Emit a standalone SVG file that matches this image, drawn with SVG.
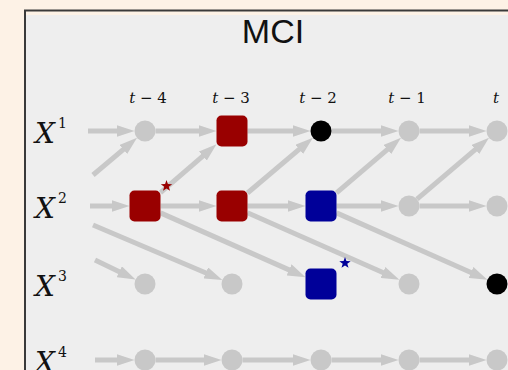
<svg xmlns="http://www.w3.org/2000/svg" width="508" height="370" viewBox="0 0 508 370">
<style>
.e{stroke:#c8c8c8;stroke-width:5;fill:none;marker-end:url(#ah)}
.g{fill:#c8c8c8}
.red{fill:#990000}
.blue{fill:#000099}
.tl{font-family:"DejaVu Serif","Liberation Serif",serif;font-size:15px;fill:#111;text-anchor:middle}
.xl{font-family:"DejaVu Serif","Liberation Serif",serif;font-style:italic;font-size:28px;fill:#111}
.sup{font-family:"DejaVu Serif","Liberation Serif",serif;font-size:14px;fill:#111}
</style>
<defs>
<marker id="ah" viewBox="0 0 18 12" refX="8" refY="6" markerWidth="18" markerHeight="12" markerUnits="userSpaceOnUse" orient="auto">
<path d="M0,0 L18,6 L0,12 Z" fill="#c8c8c8"/>
</marker>
<path id="star" d="M0,-6 L1.41,-1.94 L5.71,-1.85 L2.28,0.74 L3.53,4.85 L0,2.4 L-3.53,4.85 L-2.28,0.74 L-5.71,-1.85 L-1.41,-1.94 Z"/>
</defs>
<rect x="0" y="0" width="508" height="370" fill="#fdf2e6"/>
<rect x="26" y="15" width="482" height="355" fill="#eeeeee"/>
<path d="M25,370 V10.5 H508" fill="none" stroke="#3a3a3a" stroke-width="2"/>
<text x="273" y="43" font-family="Liberation Sans, Arial, sans-serif" font-size="34" fill="#111" text-anchor="middle">MCI</text>
<g id="time-labels">
<text class="tl" x="148" y="103"><tspan font-style="italic">t</tspan> − 4</text>
<text class="tl" x="231" y="103"><tspan font-style="italic">t</tspan> − 3</text>
<text class="tl" x="318" y="103"><tspan font-style="italic">t</tspan> − 2</text>
<text class="tl" x="407" y="103"><tspan font-style="italic">t</tspan> − 1</text>
<text class="tl" x="496" y="103" font-style="italic">t</text>
</g>
<g id="var-labels">
<text class="xl" x="35" y="143">X</text><text class="sup" x="58" y="128">1</text>
<text class="xl" x="35" y="218">X</text><text class="sup" x="58" y="203">2</text>
<text class="xl" x="35" y="296">X</text><text class="sup" x="58" y="281">3</text>
<text class="xl" x="35" y="372">X</text><text class="sup" x="58" y="357">4</text>
</g>
<g id="connectors">
<path class="e" d="M88,131 H124.5"/>
<path class="e" d="M155.5,131 H206.5"/>
<path class="e" d="M247.5,131 H300.5"/>
<path class="e" d="M331.5,131 H388.5"/>
<path class="e" d="M419.5,131 H476.5"/>
<path class="e" d="M90,206 H119.5"/>
<path class="e" d="M160.5,206 H206.5"/>
<path class="e" d="M247.5,206 H295.5"/>
<path class="e" d="M336.5,206 H388.5"/>
<path class="e" d="M419.5,206 H476.5"/>
<path class="e" d="M95,360 H124.5"/>
<path class="e" d="M155.5,360 H211.5"/>
<path class="e" d="M242.5,360 H300.5"/>
<path class="e" d="M331.5,360 H388.5"/>
<path class="e" d="M419.5,360 H476.5"/>
<path class="e" d="M93,175 L129.4,144.3"/>
<path class="e" d="M160.5,192.6 L208.9,150.9"/>
<path class="e" d="M247.5,193 L305.3,144.2"/>
<path class="e" d="M336.5,192.8 L393.4,144.3"/>
<path class="e" d="M417,199.2 L481.4,144.3"/>
<path class="e" d="M95,260 L126.5,275.2"/>
<path class="e" d="M93,225 L213.1,276"/>
<path class="e" d="M160.5,212.9 L296.4,273.1"/>
<path class="e" d="M247.5,212.8 L390.2,275.7"/>
<path class="e" d="M336.5,212.9 L478.3,275.7"/>
</g>
<g id="X1_t-4"><circle class="g" cx="145" cy="131" r="10.5"/></g>
<g id="X1_t-3"><rect class="red" x="216.5" y="115.5" width="31" height="31" rx="5"/></g>
<g id="X1_t-2"><circle cx="321" cy="131" r="10.5" fill="#000"/></g>
<g id="X1_t-1"><circle class="g" cx="409" cy="131" r="10.5"/></g>
<g id="X1_t"><circle class="g" cx="497" cy="131" r="10.5"/></g>
<g id="X2_t-4"><rect class="red" x="129.5" y="190.5" width="31" height="31" rx="5"/><use href="#star" x="166.5" y="186" class="red"/></g>
<g id="X2_t-3"><rect class="red" x="216.5" y="190.5" width="31" height="31" rx="5"/></g>
<g id="X2_t-2"><rect class="blue" x="305.5" y="190.5" width="31" height="31" rx="5"/></g>
<g id="X2_t-1"><circle class="g" cx="409" cy="206" r="10.5"/></g>
<g id="X2_t"><circle class="g" cx="497" cy="206" r="10.5"/></g>
<g id="X3_t-4"><circle class="g" cx="145" cy="284" r="10.5"/></g>
<g id="X3_t-3"><circle class="g" cx="232" cy="284" r="10.5"/></g>
<g id="X3_t-2"><rect class="blue" x="305.5" y="268.5" width="31" height="31" rx="5"/><use href="#star" x="345" y="263" class="blue"/></g>
<g id="X3_t-1"><circle class="g" cx="409" cy="284" r="10.5"/></g>
<g id="X3_t"><circle cx="497" cy="284" r="10.5" fill="#000"/></g>
<g id="X4_t-4"><circle class="g" cx="145" cy="360" r="10.5"/></g>
<g id="X4_t-3"><circle class="g" cx="232" cy="360" r="10.5"/></g>
<g id="X4_t-2"><circle class="g" cx="321" cy="360" r="10.5"/></g>
<g id="X4_t-1"><circle class="g" cx="409" cy="360" r="10.5"/></g>
<g id="X4_t"><circle class="g" cx="497" cy="360" r="10.5"/></g>
</svg>
